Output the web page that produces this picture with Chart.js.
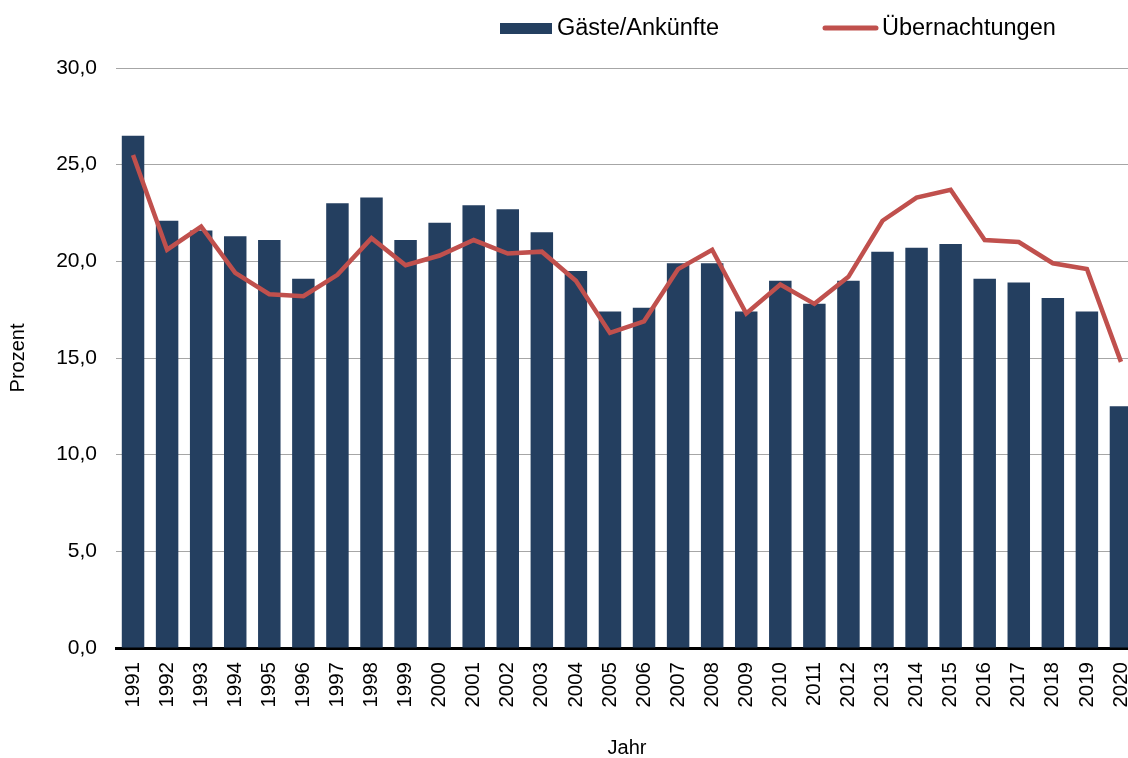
<!DOCTYPE html>
<html lang="de">
<head>
<meta charset="utf-8">
<title>Gäste und Übernachtungen</title>
<script src="https://cdn.jsdelivr.net/npm/chart.js@4/dist/chart.umd.min.js"></script>
<style>
  html, body { margin: 0; padding: 0; overflow: hidden; background: #fff; }
  #wrap { width: 1140px; height: 758px; }
</style>
</head>
<body>
<div id="wrap"><canvas id="chart" width="1140" height="758"></canvas></div>
<script>
// Jahre auf der x-Achse
const years = [
  "1991", "1992", "1993", "1994", "1995", "1996", "1997", "1998", "1999", "2000",
  "2001", "2002", "2003", "2004", "2005", "2006", "2007", "2008", "2009", "2010",
  "2011", "2012", "2013", "2014", "2015", "2016", "2017", "2018", "2019", "2020"
];

// Anteil Gäste/Ankünfte in Prozent
const guests = [
  26.5, 22.1, 21.6, 21.3, 21.1, 19.1, 23.0, 23.3, 21.1, 22.0,
  22.9, 22.7, 21.5, 19.5, 17.4, 17.6, 19.9, 19.9, 17.4, 19.0,
  17.8, 19.0, 20.5, 20.7, 20.9, 19.1, 18.9, 18.1, 17.4, 12.5
];

// Anteil Übernachtungen in Prozent
const overnights = [
  25.5, 20.6, 21.8, 19.4, 18.3, 18.2, 19.3, 21.2, 19.8, 20.3,
  21.1, 20.4, 20.5, 19.0, 16.3, 16.9, 19.6, 20.6, 17.3, 18.8,
  17.8, 19.2, 22.1, 23.3, 23.7, 21.1, 21.0, 19.9, 19.6, 14.8
];

// y-Achse: 0 bis 30 in Fünferschritten
const yMin = 0;
const yMax = 30;
const yStep = 5;

const BAR_COLOR = "#243f60";
const LINE_COLOR = "#c0504d";
const FONT = "'Liberation Sans', Arial, sans-serif";

// Legende oben rechts, von Hand gezeichnet
const topLegend = {
  id: "topLegend",
  afterDraw(chart) {
    const ctx = chart.ctx;
    const [bars, line] = chart.data.datasets;
    ctx.save();
    ctx.font = "23.5px " + FONT;
    ctx.textBaseline = "middle";

    ctx.fillStyle = bars.backgroundColor;
    ctx.fillRect(500, 23, 52, 11);
    ctx.fillStyle = "#000";
    ctx.fillText(bars.label, 557, 29);

    ctx.strokeStyle = line.borderColor;
    ctx.lineWidth = 5;
    ctx.lineCap = "round";
    ctx.beginPath();
    ctx.moveTo(825, 28);
    ctx.lineTo(876, 28);
    ctx.stroke();
    ctx.fillText(line.label, 882, 29);
    ctx.restore();
  }
};

new Chart(document.getElementById("chart"), {
  type: "bar",
  data: {
    labels: years,
    datasets: [
      {
        type: "bar",
        label: "Gäste/Ankünfte",
        data: guests,
        backgroundColor: BAR_COLOR,
        barPercentage: 0.66,
        categoryPercentage: 1,
        order: 1
      },
      {
        type: "line",
        label: "Übernachtungen",
        data: overnights,
        borderColor: LINE_COLOR,
        backgroundColor: LINE_COLOR,
        borderWidth: 4.5,
        pointRadius: 0,
        tension: 0,
        order: 0
      }
    ]
  },
  options: {
    responsive: false,
    animation: false,
    devicePixelRatio: 1,
    layout: { padding: { top: 68, right: 2, bottom: 0, left: 0 } },
    plugins: {
      legend: { display: false },
      tooltip: { enabled: false }
    },
    scales: {
      x: {
        grid: { display: false, drawTicks: false },
        border: { display: true, color: "#000", width: 3 },
        ticks: {
          color: "#000",
          font: { family: FONT, size: 20.5 },
          minRotation: 90,
          maxRotation: 90,
          autoSkip: false,
          padding: 14
        },
        title: {
          display: true,
          text: "Jahr",
          color: "#000",
          font: { family: FONT, size: 20 },
          padding: { top: 0, bottom: -2 }
        },
        afterFit(scale) {
          scale.height = 110;
          // rotated year labels need no extra room at the sides
          scale.paddingLeft = 0;
          scale.paddingRight = 0;
        }
      },
      y: {
        min: yMin,
        max: yMax,
        grid: { color: "#a6a6a6", lineWidth: 1, drawTicks: false },
        border: { display: false },
        ticks: {
          stepSize: yStep,
          color: "#000",
          font: { family: FONT, size: 21 },
          padding: 19,
          callback: (v) => v.toFixed(1).replace(".", ",")
        },
        title: {
          display: true,
          text: "Prozent",
          color: "#000",
          font: { family: FONT, size: 20 },
          padding: { top: 6, bottom: 0 }
        },
        afterFit(scale) { scale.width = 116; }
      }
    }
  },
  plugins: [topLegend]
});
</script>
</body>
</html>
